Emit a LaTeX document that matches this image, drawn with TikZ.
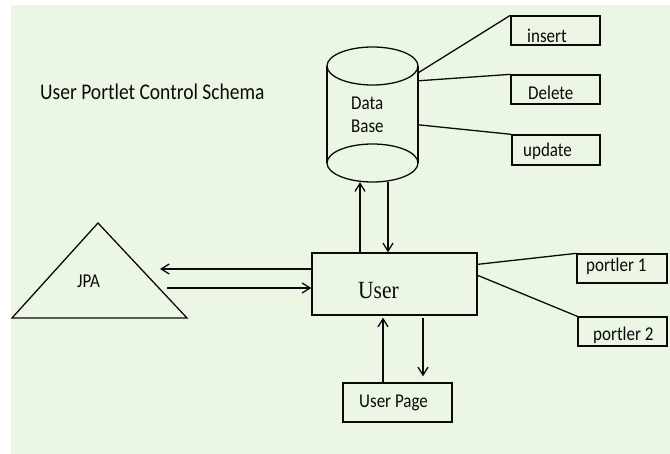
\documentclass[tikz,border=0pt]{standalone}
\usepackage{fontspec}
\usepackage{graphicx}
\setmainfont{Carlito}
\newfontfamily\userserif{Liberation Serif}
\usetikzlibrary{arrows.meta}
\definecolor{paper}{HTML}{EBF7E4}
\definecolor{ink}{HTML}{0A0A0A}
% slightly taller lettering
\newcommand{\tallText}[1]{\scalebox{1}[1.15]{#1}}
\tikzset{
  box/.style={draw=ink, line width=1.3pt, rectangle, inner sep=0pt},
  txt/.style={anchor=base west, inner sep=0pt, font=\fontsize{17}{20}\selectfont, text=ink},
  wire/.style={draw=ink, line width=1.3pt},
  flow/.style={draw=ink, line width=1.3pt, -{Straight Barb[length=8pt,width=10pt,line width=1.3pt]}},
}
\begin{document}
\begin{tikzpicture}[x=1pt,y=-1pt]
  \useasboundingbox (0,0) rectangle (670,454);
  \fill[paper] (11,5) rectangle (670,454);

  % title
  \node[txt, font=\fontsize{19.5}{22}\selectfont] (title) at (40,100) {\tallText{User Portlet Control Schema}};

  % database cylinder
  \node[minimum width=91pt, minimum height=135pt, inner sep=0pt] (db) at (372.5,114.5) {};
  \draw[wire] (372.5,66) ellipse [x radius=45.5, y radius=19];
  \draw[wire] (372.5,163) ellipse [x radius=45.5, y radius=19];
  \draw[wire] (327,66) -- (327,163) (418,66) -- (418,163);
  \node[txt] (dbA) at (351,110) {\tallText{Data}};
  \node[txt] (dbB) at (351,133) {\tallText{Base}};

  % operations on the database
  \node[box, minimum width=89pt, minimum height=29pt] (ins) at (555.5,30.5) {};
  \node[box, minimum width=89pt, minimum height=29pt] (del) at (555.5,89.5) {};
  \node[box, minimum width=88pt, minimum height=30pt] (upd) at (556,150) {};
  \node[txt] (insT) at (527,43) {\tallText{insert}};
  \node[txt] (delT) at (528,100) {\tallText{Delete}};
  \node[txt] (updT) at (523,157) {\tallText{update}};
  \draw[wire] ([yshift=-26pt]db.north east) -- (ins.north west);
  \draw[wire] ([yshift=-34pt]db.north east) -- (del.north west);
  \draw[wire] ([yshift=-78pt]db.north east) -- (upd.north west);

  % user controller
  \node[box, minimum width=165pt, minimum height=62pt] (user) at (394.5,284) {};
  \node[anchor=base west, inner sep=0pt, font=\userserif\fontsize{21.5}{24}\selectfont, text=ink] (userT) at (358,299) {\tallText{User}};

  % portlets
  \node[box, minimum width=90pt, minimum height=29pt] (p1) at (622,268.5) {};
  \node[box, minimum width=89pt, minimum height=29pt] (p2) at (622.5,331.5) {};
  \node[txt] (p1T) at (586,272) {\tallText{portler 1}};
  \node[txt] (p2T) at (593,341) {\tallText{portler 2}};
  \draw[wire] ([yshift=-12pt]user.north east) -- (p1.north west);
  \draw[wire] ([yshift=-23pt]user.north east) -- (p2.north west);

  % user page
  \node[box, minimum width=109pt, minimum height=39pt] (upage) at (397.5,402.5) {};
  \node[txt] (upT) at (359,408) {\tallText{User Page}};

  % JPA
  \draw[wire, line join=miter] (98,223) -- (12,318) -- (187,318) -- cycle;
  \node[txt] (jpa) at (77,288) {\tallText{JPA}};
  \coordinate (jpaIn) at (160,269);
  \coordinate (jpaOut) at (167,288);

  % flows
  \draw[flow] ([xshift=-34.5pt]user.north) -- ([xshift=-12.5pt]db.south);
  \draw[flow] ([xshift=15.5pt]db.south) -- ([xshift=-6.5pt]user.north);
  \draw[flow] ([yshift=15pt]user.west) -- (jpaIn);
  \draw[flow] (jpaOut) -- ([yshift=-4pt]user.west);
  \draw[flow] ([xshift=-14.5pt]upage.north) -- ([xshift=-11.5pt,yshift=-2pt]user.south);
  \draw[flow] ([xshift=28.5pt,yshift=-2pt]user.south) -- ([xshift=25.5pt,yshift=6pt]upage.north);
\end{tikzpicture}
\end{document}
